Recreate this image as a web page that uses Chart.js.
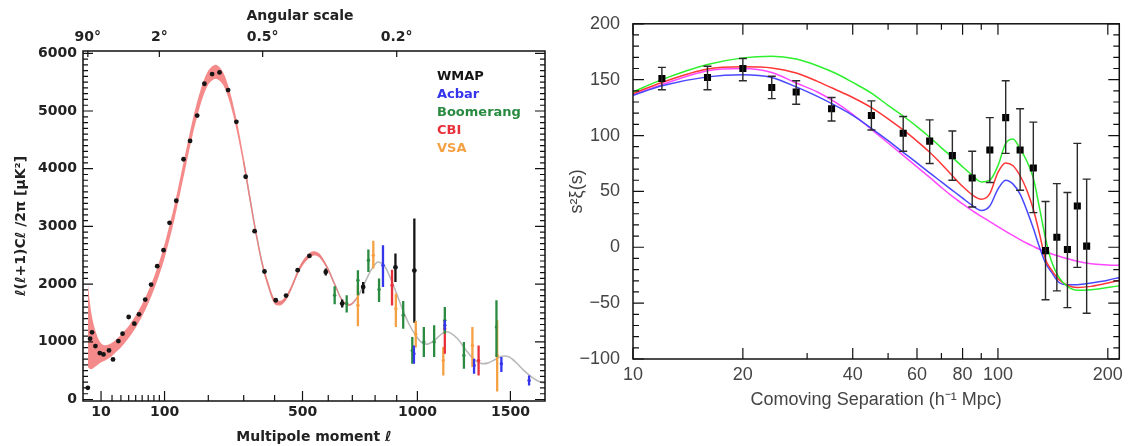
<!DOCTYPE html>
<html lang="en">
<head>
<meta charset="UTF-8">
<title>CMB power spectrum and galaxy correlation function</title>
<script src="https://cdn.jsdelivr.net/npm/chart.js"></script>
<style>
  body { margin: 0; background: #fff; }
  #wrap { position: relative; width: 1128px; height: 446px; }
  #cmb { position: absolute; left: 0; top: 0; }
  #xi { position: absolute; left: 560px; top: 0; }
</style>
</head>
<body>
<div id="wrap">
  <canvas id="cmb" width="560" height="446"></canvas>
  <canvas id="xi" width="568" height="446"></canvas>
</div>
<script>
// ---------- left panel: CMB power spectrum ----------
const wmapL = [2, 3, 4, 6, 9, 12, 17, 21, 27, 32, 40, 48, 55, 65, 75, 86, 98, 110, 124, 140, 155, 172, 190, 210, 230, 254, 278, 306, 334, 366, 404, 440, 482, 526, 590, 657, 747, 894, 985];
const wmapV = [203, 1054, 1164, 926, 804, 782, 851, 695, 1013, 1141, 1430, 1315, 1477, 1732, 1992, 2310, 2588, 3062, 3445, 4164, 4482, 4921, 5472, 5640, 5668, 5362, 4812, 3861, 2918, 2218, 1720, 1801, 2241, 2489, 2211, 1662, 1951, 2290, 2235];
const wmapLo = [null, null, null, null, null, null, null, null, null, null, null, null, null, null, null, null, null, null, null, null, null, null, null, null, null, null, null, null, null, null, null, null, null, null, 2150, 1593, 1836, 2038, 1330];
const wmapHi = [null, null, null, null, null, null, null, null, null, null, null, null, null, null, null, null, null, null, null, null, null, null, null, null, null, null, null, null, null, null, null, null, null, null, 2270, 1732, 2038, 2531, 3139];

const acbarL = [836, 983, 1139, 1295, 1448, 1610];
const acbarV = [2327, 794, 1285, 591, 620, 330];
const acbarLo = [1951, 620, 1200, 446, 475, 243];
const acbarHi = [2675, 938, 1372, 707, 735, 417];

const boomL = [626, 676, 724, 770, 818, 931, 975, 1032, 1084, 1139, 1240, 1420];
const boomV = [1807, 1662, 2067, 2414, 1906, 1459, 851, 996, 996, 1372, 764, 1256];
const boomLo = [1650, 1506, 1807, 2211, 1690, 1228, 620, 735, 735, 1141, 533, 735];
const boomHi = [1963, 1807, 2241, 2600, 2097, 1708, 1082, 1256, 1285, 1603, 996, 1720];

const cbiL = [878, 1139, 1320];
const cbiV = [1980, 1228, 678];
const cbiLo = [1630, 794, 417];
const cbiHi = [2250, 1372, 938];

const vsaL = [724, 792, 896, 992, 1131, 1286, 1424];
const vsaV = [1633, 2501, 1575, 1130, 678, 938, 764];
const vsaLo = [1268, 2270, 1256, 900, 417, 562, 140];
const vsaHi = [1980, 2750, 1836, 1360, 909, 1256, 1372];

// best-fit model and its cosmic-variance band
const thL = [2, 3, 4, 5, 6, 8, 10, 12, 15, 20, 25, 30, 40, 50, 60, 70, 80, 90, 100, 120, 140, 160, 180, 200, 220, 240, 260, 280, 300, 320, 340, 360, 380, 400, 420, 440, 460, 480, 500, 530, 550, 570, 600, 630, 660, 690, 720, 750, 780, 810, 840, 870, 900, 930, 960, 990, 1020, 1050, 1080, 1110, 1140, 1170, 1210, 1250, 1290, 1330, 1370, 1410, 1450, 1490, 1530, 1580, 1630, 1680, 1720];
const thV = [1290, 1090, 980, 920, 880, 830, 810, 805, 820, 870, 940, 1010, 1170, 1350, 1550, 1770, 2010, 2280, 2570, 3240, 3980, 4680, 5230, 5580, 5680, 5560, 5220, 4720, 4120, 3460, 2840, 2320, 1960, 1700, 1670, 1760, 1950, 2180, 2360, 2510, 2530, 2470, 2250, 1960, 1700, 1640, 1760, 1990, 2230, 2380, 2330, 2110, 1830, 1540, 1300, 1120, 990, 960, 1010, 1100, 1170, 1150, 1040, 860, 710, 630, 630, 690, 750, 740, 650, 500, 380, 300, 280];
const bandL = [2, 3, 4, 5, 6, 8, 10, 12, 15, 20, 25, 30, 40, 50, 60, 70, 80, 90, 100, 120, 140, 160, 180, 200, 220, 240, 260, 280, 300, 320, 340, 360, 380, 400, 420, 440, 460, 480, 500, 530, 550, 570, 600, 630, 660, 690, 720];
const bandHi = [2015, 1650, 1430, 1290, 1190, 1050, 975, 945, 945, 985, 1050, 1120, 1275, 1455, 1655, 1880, 2120, 2395, 2690, 3365, 4110, 4810, 5355, 5700, 5800, 5670, 5320, 4810, 4200, 3530, 2900, 2375, 2010, 1745, 1710, 1800, 1990, 2220, 2400, 2550, 2565, 2505, 2280, 1985, 1720, 1655, 1770];
const bandLo = [565, 530, 530, 550, 570, 610, 645, 665, 695, 755, 830, 900, 1065, 1245, 1445, 1660, 1900, 2165, 2450, 3115, 3850, 4550, 5105, 5460, 5560, 5450, 5120, 4630, 4040, 3390, 2780, 2265, 1910, 1655, 1630, 1720, 1910, 2140, 2320, 2470, 2495, 2435, 2220, 1935, 1680, 1625, 1750];

const lTickMajor = [10, 100, 500, 1000, 1500];
const lTickMinor = [20, 30, 40, 50, 60, 70, 80, 90, 200, 300, 400, 600, 700, 800, 900];
const angL = [2, 90, 360, 900];
const angLabels = ['90°', '2°', '0.5°', '0.2°'];
const clTicks = [0, 1000, 2000, 3000, 4000, 5000, 6000];
const clMinor = [];
for (let v = 100; v < 6000; v += 100) if (v % 1000) clMinor.push(v);

const legendNames = ['WMAP', 'Acbar', 'Boomerang', 'CBI', 'VSA'];
const legendColors = ['#151515', '#3535ee', '#2a8a40', '#e8303a', '#f5a043'];

// ---------- right panel: redshift-space correlation function ----------
const xiS = [12, 16, 20, 24, 28, 35, 45, 55, 65, 75, 85, 95, 105, 115, 125, 135, 145, 155, 165, 175];
const xiV = [151, 152, 160, 143, 139, 124, 118, 102, 95, 82, 62, 87, 116, 87, 71, -3, 9, -2, 37, 1];
const xiLo = [141, 141, 149, 133, 128, 113, 105, 86, 75, 60, 36, 58, 84, 51, 31, -47, -39, -54, -18, -59];
const xiHi = [161, 162, 169, 153, 149, 134, 131, 117, 114, 104, 86, 116, 149, 124, 112, 41, 57, 49, 93, 61];

const modelS = [10, 12, 16, 20, 24, 28, 32, 36, 40, 45, 50, 55, 60, 65, 70, 75, 80, 85, 90, 95, 100, 105, 110, 115, 120, 125, 130, 135, 140, 147, 155, 165, 180, 200, 215];
const greenV = [139, 150, 163.5, 169.5, 171, 168.5, 162.5, 155.5, 147.5, 138, 127, 117.5, 108, 98.5, 89, 80.5, 72, 64.5, 58.5, 60, 73, 93, 97, 88, 77, 62, 35, 8, -12, -27, -35, -38.5, -38, -36, -34.5];
const redV = [137.5, 147.5, 159.5, 161.5, 160.5, 156, 148.5, 141, 134, 125, 115, 105, 95, 85, 74.5, 64, 54.5, 47, 43, 48, 67, 75.5, 73, 64, 51, 34, 12, -11, -20, -29, -34, -36, -35, -32, -29.5];
const blueV = [136, 144.5, 152.5, 154.5, 152, 143.5, 135, 126.5, 118, 106.5, 95.5, 85, 75.5, 66.5, 58.5, 51, 44, 37.5, 33, 37, 52, 60, 56.5, 47.5, 33, 17, 0, -14, -22, -31.5, -33.5, -33.5, -32, -29.5, -27];
const magentaV = [136.5, 145.5, 158, 160, 156.5, 147, 139, 129.5, 119, 105.5, 93.3, 82.2, 72, 62.5, 53.5, 45.5, 38.8, 32.8, 27.7, 23, 18.5, 14.3, 10.4, 6.8, 3.6, 0.8, -1.8, -4, -5.8, -8, -10.2, -12.6, -14.8, -15.8, -16.2];

const sTickLabels = [10, 20, 40, 60, 80, 100, 200];
const sTickMajor = [10, 20, 40, 60, 80, 100, 200];
const sTickMinor = [30, 50, 70, 90];
const xiTicks = [-100, -50, 0, 50, 100, 150, 200];
const xiMinor = [];
for (let v = -90; v < 200; v += 10) if (v % 50) xiMinor.push(v);

// ---------- helpers ----------
const lpow = l => Math.pow(l, 0.6);   // stretched multipole axis
const pts = (xs, ys, f) => xs.map((x, i) => ({ x: f ? f(x) : x, y: ys[i] }));

function errorBars(cap) {
  return {
    id: 'errorBars',
    afterDatasetsDraw(chart) {
      const ctx = chart.ctx, xs = chart.scales.x, ys = chart.scales.y;
      ctx.save();
      chart.data.datasets.forEach(ds => {
        if (!ds.errLo) return;
        ctx.strokeStyle = ds.errColor;
        ctx.lineWidth = ds.errWidth;
        ctx.beginPath();
        ds.data.forEach((p, i) => {
          const lo = ds.errLo[i], hi = ds.errHi[i];
          if (lo == null) return;
          const x = xs.getPixelForValue(p.x);
          const y1 = ys.getPixelForValue(lo), y2 = ys.getPixelForValue(hi);
          ctx.moveTo(x, y1); ctx.lineTo(x, y2);
          if (cap) {
            ctx.moveTo(x - cap, y1); ctx.lineTo(x + cap, y1);
            ctx.moveTo(x - cap, y2); ctx.lineTo(x + cap, y2);
          }
        });
        ctx.stroke();
      });
      ctx.restore();
    }
  };
}

// frame with inward ticks, like the original plotting package
function frame(marks, lineWidth) {
  return {
    id: 'frame',
    afterDatasetsDraw(chart) {
      const { ctx, chartArea: a } = chart;
      ctx.save();
      ctx.strokeStyle = '#111';
      ctx.lineWidth = lineWidth;
      ctx.strokeRect(a.left, a.top, a.right - a.left, a.bottom - a.top);
      ctx.lineWidth = 1.2;
      ctx.beginPath();
      marks.forEach(m => {
        const sc = chart.scales[m.scale];
        m.values.forEach(v => {
          const p = sc.getPixelForValue(v);
          m.sides.forEach(side => {
            if (side === 'bottom') { ctx.moveTo(p, a.bottom); ctx.lineTo(p, a.bottom - m.len); }
            if (side === 'top') { ctx.moveTo(p, a.top); ctx.lineTo(p, a.top + m.len); }
            if (side === 'left') { ctx.moveTo(a.left, p); ctx.lineTo(a.left + m.len, p); }
            if (side === 'right') { ctx.moveTo(a.right, p); ctx.lineTo(a.right - m.len, p); }
          });
        });
      });
      ctx.stroke();
      ctx.restore();
    }
  };
}

const leftNotes = {
  id: 'leftNotes',
  afterDraw(chart) {
    const ctx = chart.ctx;
    ctx.save();
    ctx.font = 'bold 13px "DejaVu Sans"';
    ctx.textBaseline = 'middle';
    legendNames.forEach((n, i) => {
      ctx.fillStyle = legendColors[i];
      ctx.fillText(n, 437, 77 + i * 18);
    });
    ctx.fillStyle = '#222';
    ctx.textAlign = 'center';
    ctx.font = 'bold 14px "DejaVu Sans"';
    ctx.fillText('Angular scale', 300, 16);
    ctx.restore();
  }
};

const fL = { family: 'DejaVu Sans', size: 14, weight: 'bold' };
const fR = { family: 'Liberation Sans', size: 18 };

function expSet(l, v, lo, hi, color, r) {
  return {
    data: pts(l, v, lpow), showLine: false, pointRadius: r, pointBorderWidth: 0,
    pointBackgroundColor: color, borderColor: color,
    errLo: lo, errHi: hi, errColor: color, errWidth: 2.3
  };
}

new Chart(document.getElementById('cmb'), {
  type: 'line',
  data: {
    datasets: [
      expSet(wmapL, wmapV, wmapLo, wmapHi, legendColors[0], 2.4),
      expSet(vsaL, vsaV, vsaLo, vsaHi, legendColors[4], 1.7),
      expSet(cbiL, cbiV, cbiLo, cbiHi, legendColors[3], 1.7),
      expSet(boomL, boomV, boomLo, boomHi, legendColors[2], 1.7),
      expSet(acbarL, acbarV, acbarLo, acbarHi, legendColors[1], 1.7),
      { data: pts(bandL, bandHi, lpow), pointRadius: 0, borderWidth: 0, tension: 0.3,
        fill: '+1', backgroundColor: 'rgba(242,118,118,0.85)' },
      { data: pts(bandL, bandLo, lpow), pointRadius: 0, borderWidth: 0, tension: 0.3, fill: false },
      { data: pts(thL, thV, lpow), pointRadius: 0, borderWidth: 1.6, tension: 0.3, fill: false,
        borderColor: '#b9b9b9',
        segment: { borderColor: c => c.p0.parsed.x < lpow(300) ? 'rgba(0,0,0,0)' : '#b9b9b9' } }
    ]
  },
  options: {
    responsive: false, animation: false, devicePixelRatio: 1,
    layout: { padding: { right: 15 } },
    plugins: { legend: { display: false }, tooltip: { enabled: false } },
    scales: {
      x: {
        type: 'linear', position: 'bottom', min: 0.61, max: 86.94,
        grid: { display: false, drawTicks: false }, border: { display: false },
        afterBuildTicks: s => { s.ticks = lTickMajor.map(l => ({ value: lpow(l) })); },
        afterFit: s => { s.height = 45; },
        ticks: { autoSkip: false, maxRotation: 0, padding: 3, color: '#222', font: fL,
          callback: (v, i) => String(lTickMajor[i]) },
        title: { display: true, text: 'Multipole moment ℓ', color: '#222', font: fL, padding: { top: 0, bottom: 0 } }
      },
      xTop: {
        type: 'linear', position: 'top', min: 0.61, max: 86.94,
        grid: { display: false, drawTicks: false }, border: { display: false },
        afterBuildTicks: s => { s.ticks = angL.map(l => ({ value: lpow(l) })); },
        afterFit: s => { s.height = 51; },
        ticks: { autoSkip: false, maxRotation: 0, padding: 5, color: '#222', font: fL,
          callback: (v, i) => angLabels[i] }
      },
      y: {
        type: 'linear', min: -26, max: 6040,
        grid: { display: false, drawTicks: false }, border: { display: false },
        afterBuildTicks: s => { s.ticks = clTicks.map(v => ({ value: v })); },
        afterFit: s => { s.width = 83; },
        ticks: { padding: 6, color: '#222', font: fL, callback: v => String(v) },
        title: { display: true, text: 'ℓ(ℓ+1)Cℓ /2π [μK²]', color: '#222', font: fL, padding: { top: 13 } }
      }
    }
  },
  plugins: [
    errorBars(0),
    frame([
      { scale: 'x', values: lTickMajor.map(lpow), sides: ['bottom'], len: 10 },
      { scale: 'x', values: lTickMinor.map(lpow), sides: ['bottom'], len: 6 },
      { scale: 'xTop', values: angL.map(lpow), sides: ['top'], len: 6 },
      { scale: 'y', values: clTicks, sides: ['left', 'right'], len: 10 },
      { scale: 'y', values: clMinor, sides: ['left', 'right'], len: 5 }
    ], 1.5),
    leftNotes
  ]
});

const curve = (v, color) => ({
  data: pts(modelS, v), pointRadius: 0, borderWidth: 1.5, borderColor: color,
  cubicInterpolationMode: 'monotone', fill: false
});

new Chart(document.getElementById('xi'), {
  type: 'line',
  data: {
    datasets: [
      { data: pts(xiS, xiV), showLine: false, pointStyle: 'rect', pointRadius: 5,
        pointBackgroundColor: '#000', pointBorderWidth: 0,
        errLo: xiLo, errHi: xiHi, errColor: '#2a2a2a', errWidth: 1.4 },
      curve(greenV, '#2ef02e'),
      curve(redV, '#ff3636'),
      curve(blueV, '#4848ff'),
      curve(magentaV, '#ff48ff')
    ]
  },
  options: {
    responsive: false, animation: false, devicePixelRatio: 1,
    layout: { padding: { top: 13, right: 7 } },
    plugins: { legend: { display: false }, tooltip: { enabled: false } },
    scales: {
      x: {
        type: 'logarithmic', min: 10, max: 215,
        grid: { display: false, drawTicks: false }, border: { display: false },
        afterBuildTicks: s => { s.ticks = sTickLabels.map(v => ({ value: v })); },
        afterFit: s => { s.height = 87; },
        ticks: { autoSkip: false, maxRotation: 0, padding: 5, color: '#444', font: fR,
          callback: (v, i) => String(sTickLabels[i]) },
        title: { display: true, text: 'Comoving Separation (h⁻¹ Mpc)', color: '#444', font: fR, padding: { top: 0, bottom: 35 } }
      },
      y: {
        type: 'linear', min: -100, max: 200,
        grid: { display: false, drawTicks: false }, border: { display: false },
        afterBuildTicks: s => { s.ticks = xiTicks.map(v => ({ value: v })); },
        afterFit: s => { s.width = 73; },
        ticks: { padding: 13, color: '#444', font: fR,
          callback: v => v < 0 ? '\u2212' + Math.abs(v) : String(v) },
        title: { display: true, text: 's²ξ(s)', color: '#444', font: fR, padding: { top: 6 } }
      }
    }
  },
  plugins: [
    errorBars(4),
    frame([
      { scale: 'x', values: sTickMajor, sides: ['bottom', 'top'], len: 11 },
      { scale: 'x', values: sTickMinor, sides: ['bottom', 'top'], len: 6 },
      { scale: 'y', values: xiTicks, sides: ['left', 'right'], len: 11 },
      { scale: 'y', values: xiMinor, sides: ['left', 'right'], len: 6 }
    ], 1.5)
  ]
});
</script>
</body>
</html>
